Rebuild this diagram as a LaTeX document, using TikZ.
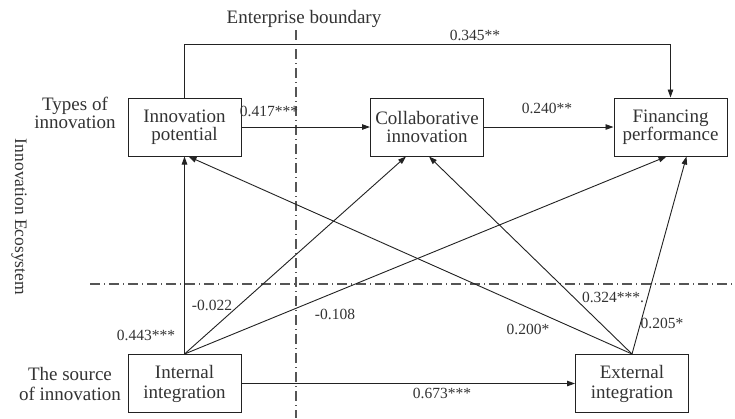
\documentclass[tikz,border=0pt]{standalone}
\usepackage{fontspec}
\setmainfont{Liberation Serif}
\usetikzlibrary{arrows.meta}
\definecolor{ink}{HTML}{222222}
\definecolor{txt}{HTML}{333333}
\definecolor{bnd}{HTML}{555555}
\begin{document}
\begin{tikzpicture}[x=1pt,y=-1pt,
  box/.style={draw=ink, line width=1pt, minimum width=113pt, minimum height=58pt, inner sep=0pt, align=center, text=txt, font=\fontsize{19}{18.5}\selectfont},
  arr/.style={draw=ink, line width=0.9pt, -{Triangle[length=8pt,width=5.5pt]}},
  lab/.style={text=txt, font=\fontsize{15.5}{16}\selectfont, inner sep=0pt},
  side/.style={text=txt, align=center, font=\fontsize{19}{16.5}\selectfont, inner sep=0pt},
  bound/.style={draw=bnd, line width=1.2pt, dash pattern=on 10pt off 4pt on 1pt off 4pt}]
\useasboundingbox (0,0) rectangle (735,418);
\fill[white] (0,0) rectangle (735,418);

% boundaries
\coordinate (vtop) at (296,30);
\coordinate (vbot) at (296,418);
\coordinate (hleft) at (90,284);
\coordinate (hright) at (735,284);
\draw[bound] (vtop) -- (vbot);
\draw[bound] (hleft) -- (hright);

% texts
\node[side] (eb) at (304,19) {Enterprise boundary};
\node[side, rotate=-90, font=\fontsize{17.5}{18}\selectfont] (ie) at (19,217) {Innovation Ecosystem};
\node[side] (types) at (75,113) {Types of\\innovation};
\node[side, font=\fontsize{19}{20}\selectfont] (src) at (70,384) {The source\\of innovation};

% boxes
\node[box] (IP) at (184.5,127) {Innovation\\potential};
\node[box] (CI) at (427,127) {Collaborative\\innovation};
\node[box] (FP) at (670.5,127) {Financing\\performance};
\node[box, font=\fontsize{19}{20}\selectfont] (II) at (184.5,383.5) {Internal\\integration};
\node[box, font=\fontsize{19}{20}\selectfont] (EI) at (632,383.5) {External\\integration};

% connectors
\coordinate (topline) at (0,44);
\draw[arr] (IP.north) -- (IP.north |- topline) -| (FP.north);
\draw[arr] (IP.east) -- (CI.west);
\draw[arr] (CI.east) -- (FP.west);
\draw[arr] (II.north) -- (IP.south);
\draw[arr] (II.north) -- ([xshift=-21pt]CI.south);
\draw[arr] (II.north) -- ([xshift=-4pt]FP.south);
\draw[arr] (EI.north) -- ([xshift=4pt]IP.south);
\draw[arr] (EI.north) -- ([xshift=2pt]CI.south);
\draw[arr] (EI.north) -- ([xshift=16pt]FP.south);
\draw[arr] (II.east) -- (EI.west);

% labels
\node[lab] (l1) at (475,35) {0.345**};
\node[lab] (l2) at (269,111) {0.417***};
\node[lab] (l3) at (547,108) {0.240**};
\node[lab] (l4) at (146,335) {0.443***};
\node[lab] (l5) at (212,305) {-0.022};
\node[lab] (l6) at (335,314) {-0.108};
\node[lab] (l7) at (528,329) {0.200*};
\node[lab] (l8) at (613,297) {0.324***.};
\node[lab] (l9) at (662,323) {0.205*};
\node[lab] (l10) at (442,393) {0.673***};
\end{tikzpicture}
\end{document}
